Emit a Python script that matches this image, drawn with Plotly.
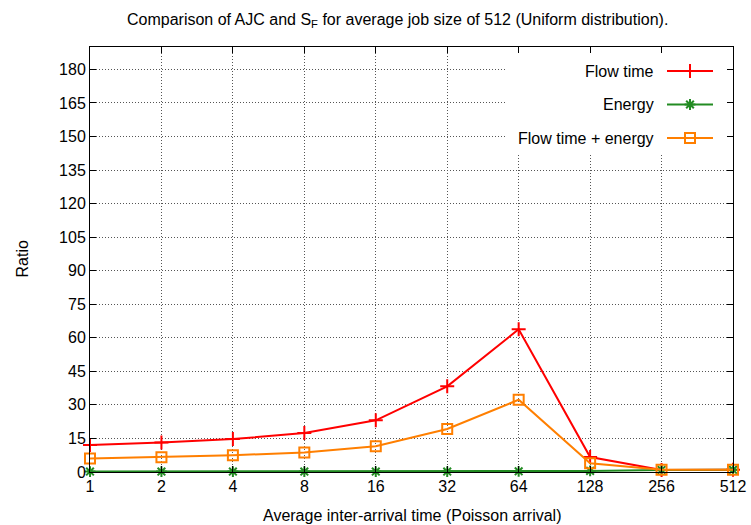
import plotly.graph_objects as go

# Average inter-arrival times (x categories)
arrival = ["1", "2", "4", "8", "16", "32", "64", "128", "256", "512"]

# Ratio of AJC to S_F per metric
flow_time = [12.1, 13.2, 14.7, 17.4, 23.1, 38.3, 63.8, 6.7, 0.9, 1.0]
energy = [0.2, 0.2, 0.2, 0.2, 0.2, 0.2, 0.3, 0.5, 0.9, 1.0]
flow_energy = [6.0, 6.6, 7.5, 8.7, 11.5, 19.2, 32.3, 3.9, 1.0, 1.0]

y_ticks = list(range(0, 181, 15))

series = [
    ("Flow time", flow_time, "#ff0000", "cross-thin-open", 10),
    ("Energy", energy, "#228b22", "asterisk-open", 9),
    ("Flow time + energy", flow_energy, "#ff7f00", "square-open", 10),
]

FONT = "Liberation Sans, Arial, Helvetica, sans-serif"

fig = go.Figure()

for name, vals, color, sym, size in series:
    fig.add_trace(go.Scatter(
        x=arrival, y=vals, mode="lines+markers", name=name,
        line=dict(color=color, width=2),
        marker=dict(symbol=sym, size=size, color=color,
                    line=dict(color=color, width=2)),
        cliponaxis=False, showlegend=False,
    ))

# Opaque key background (overlay axis in pixel units) hides the grid behind the key
fig.add_trace(go.Scatter(
    x=[505, 727, 727, 505, 505], y=[50, 50, 155, 155, 50],
    xaxis="x2", yaxis="y2", mode="lines", fill="toself",
    fillcolor="white", line=dict(width=0, color="white"),
    showlegend=False, hoverinfo="skip",
))

# Key entries: label on the left, line sample with marker on the right
key_rows = [71, 104.5, 138]
for (name, vals, color, sym, size), ky in zip(series, key_rows):
    fig.add_trace(go.Scatter(
        x=[667, 713], y=[ky, ky], xaxis="x2", yaxis="y2", mode="lines",
        line=dict(color=color, width=2), showlegend=False, hoverinfo="skip",
    ))
    fig.add_trace(go.Scatter(
        x=[690], y=[ky], xaxis="x2", yaxis="y2", mode="markers",
        marker=dict(symbol=sym, size=size, color=color,
                    line=dict(color=color, width=2)),
        showlegend=False, hoverinfo="skip", cliponaxis=False,
    ))
    fig.add_annotation(
        x=656, y=ky, xref="x2", yref="y2", text=name, showarrow=False,
        xanchor="right", yanchor="middle",
        font=dict(family=FONT, size=16, color="black"),
    )

axis_common = dict(
    showline=True, linecolor="black", linewidth=1, mirror="ticks",
    ticks="inside", ticklen=6, tickcolor="black",
    showgrid=True, gridcolor="#555555", griddash="1px,2px", gridwidth=1,
    zeroline=False, automargin=False,
    tickfont=dict(family=FONT, size=16, color="black"),
)

fig.update_layout(
    width=751, height=525,
    margin=dict(l=90, r=18, t=47, b=53),
    paper_bgcolor="white", plot_bgcolor="white",
    xaxis=dict(type="category", range=[0, 9], **axis_common),
    yaxis=dict(range=[0, 190], tickvals=y_ticks, **axis_common),
    xaxis2=dict(domain=[0, 1], anchor="y2", overlaying="x", range=[90, 733],
                visible=False, fixedrange=True, automargin=False),
    yaxis2=dict(domain=[0, 1], anchor="x2", overlaying="y", range=[472, 47],
                visible=False, fixedrange=True, automargin=False),
    showlegend=False,
    annotations=list(fig.layout.annotations) + [
        dict(text="Comparison of AJC and S<sub>F</sub> for average job size of 512 (Uniform distribution).",
             xref="paper", yref="paper", x=0.478, y=1, yshift=27,
             xanchor="center", yanchor="middle", showarrow=False,
             font=dict(family=FONT, size=16, color="black")),
        dict(text="Ratio", xref="paper", yref="paper", x=0, xshift=-68,
             y=0.5, textangle=-90, showarrow=False,
             xanchor="center", yanchor="middle",
             font=dict(family=FONT, size=16, color="black")),
        dict(text="Average inter-arrival time (Poisson arrival)",
             xref="paper", yref="paper", x=0.5, y=0, yshift=-43,
             xanchor="center", yanchor="middle", showarrow=False,
             font=dict(family=FONT, size=16, color="black")),
    ],
)

fig.write_html("out.html")
